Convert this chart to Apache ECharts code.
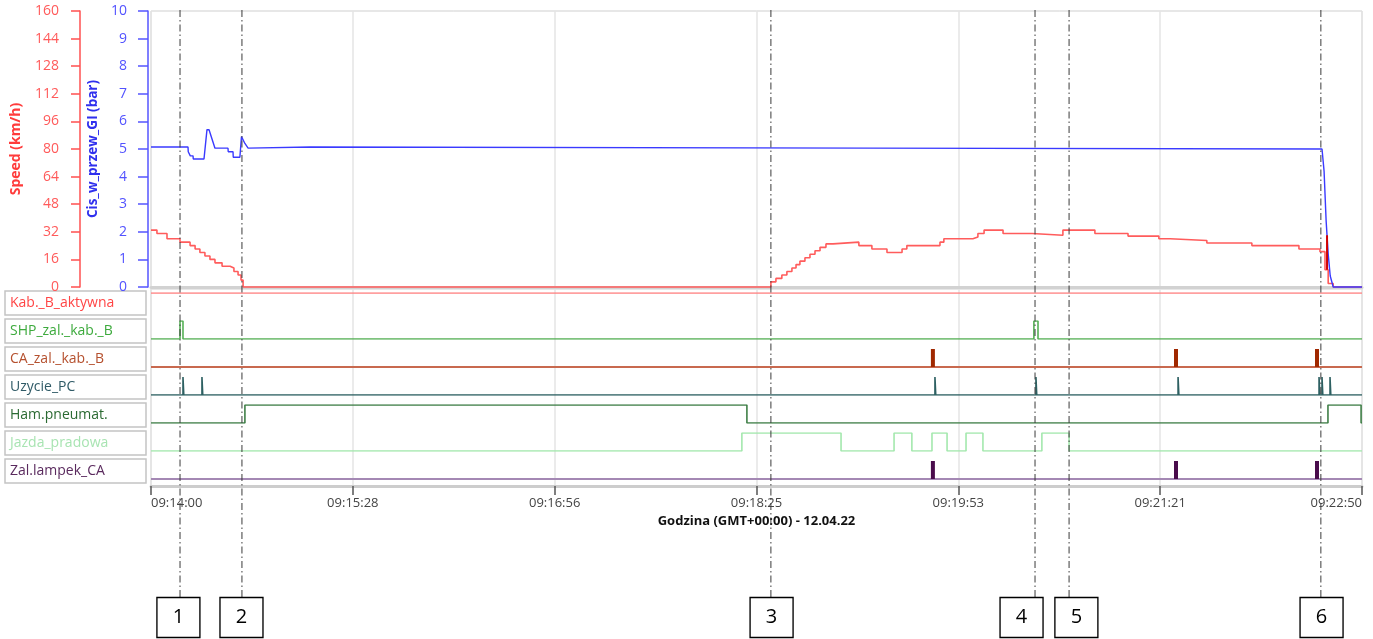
<!DOCTYPE html>
<html><head><meta charset="utf-8">
<script src="https://cdn.jsdelivr.net/npm/echarts@6/dist/echarts.min.js"></script>
<style>html,body{margin:0;padding:0;background:#fff}#c{width:1373px;height:639px}</style>
</head><body><div id="c"></div>
<script>
const FONT = '"Open Sans", "Noto Sans", sans-serif';
const START_SEC = 9 * 3600 + 14 * 60;   // 09:14:00
const SPAN_SEC = 530;                   // until 09:22:50
const TICK_COUNT = 6;
const SUB = 6;                          // axis units per second (keeps tick interval integral)

// Upper panel: speed (km/h), step signal
const speedTime  = [0, 2.6, 7.0, 12.7, 17.1, 19.3, 21.4, 23.6, 25.8, 28.0, 31.1, 34.6, 36.3, 38.1, 39.4, 40.3,
  271.3, 273.5, 276.1, 278.3, 280.5, 282.3, 284.0, 286.2, 288.4, 290.6, 292.8, 295.4, 298.5,
  309.8, 315.5, 322.1, 328.7, 330.8, 345.3, 347.0, 359.7, 361.9, 364.6, 372.9, 385.6, 399.1, 413.1, 427.6,
  441.1, 446.0, 462.1, 481.8, 502.4, 511.6, 513.8, 515.2, 517.4, 530];
const speedValue = [33, 31, 28, 26, 24, 22, 20, 18, 16, 14, 12, 11, 9, 7, 4, 0,
  3, 5, 7, 9, 11, 13, 15, 17, 19, 21, 23, 25, 26,
  24, 22, 20, 22, 24, 26, 28, 29, 31, 33, 31, 30, 33, 31, 29.5,
  28, 27, 25.5, 24, 22, 20.5, 10, 2, 0, 0];

// Upper panel: brake pipe pressure (bar)
const presTime  = [0, 16.2, 16.3, 17.1, 17.2, 18.4, 18.5, 23.2, 24.5, 25.4, 28.0, 33.7, 33.8, 35.9, 36.0, 38.9,
  39.6, 41.1, 42.5, 69.6, 314.7, 512.5, 513.4, 514.3, 515.2, 516.1, 517.4, 530];
const presValue = [5.07, 5.07, 4.9, 4.9, 4.75, 4.75, 4.64, 4.64, 5.7, 5.7, 5.03, 5.03, 4.9, 4.9, 4.7, 4.7,
  5.45, 5.2, 5.03, 5.07, 5.03, 5.0, 4.2, 2.4, 1.2, 0.4, 0, 0];

// short dark-red trace near the end of the upper panel
const darkTraceTime = [514.7, 514.7];
const darkTraceValue = [10, 30];

// Binary channels (lower panel)
const rowNames = ['Kab._B_aktywna', 'SHP_zal._kab._B', 'CA_zal._kab._B', 'Uzycie_PC', 'Ham.pneumat.', 'Jazda_pradowa', 'Zal.lampek_CA'];
const kabTime = [0, 530], kabState = [1, 1];
const shpTime = [0, 12.7, 14.0, 386.4, 388.2, 530], shpState = [0, 1, 0, 1, 0, 0];
const caPulseTimes = [342.2, 448.6, 510.3];
const uzyPulseTimes = [14.0, 22.3, 343.1, 387.3, 449.5, 511.2, 512.5, 516.0];
const hamTime = [0, 41.1, 260.8, 515.1, 529.6, 530], hamState = [0, 1, 0, 1, 0, 0];
const jazdaTime = [0, 258.6, 302.0, 325.2, 333.0, 341.8, 348.4, 356.7, 364.1, 389.9, 401.8, 530];
const jazdaState = [0, 1, 0, 1, 0, 1, 0, 1, 0, 1, 0, 0];
const zalPulseTimes = [342.2, 448.6, 510.3];

// Event markers and numbered boxes
const markerTimes = [12.7, 39.8, 271.3, 386.9, 401.8, 512.0];
const boxTimes = [12.0, 39.6, 271.6, 381.0, 405.0, 512.3];
const boxLabels = ['1', '2', '3', '4', '5', '6'];

const speedTicks = { min: 0, max: 160, interval: 16 };
const presTicks = { min: 0, max: 10, interval: 1 };
const xTitle = 'Godzina (GMT+00:00) - 12.04.22';

// ---------- build ----------
const pts = (ts, vs) => ts.map((t, i) => [t * SUB, vs[i]]);
const pad = n => String(n).padStart(2, '0');
const fmtTime = v => {
  const s = START_SEC + Math.floor(v / SUB + 1e-6);
  return pad(Math.floor(s / 3600)) + ':' + pad(Math.floor(s / 60) % 60) + ':' + pad(s % 60);
};
const X_MAX = SPAN_SEC * SUB, X_INT = X_MAX / TICK_COUNT;
const gridSide = { left: 151, right: 11 };
function xAx(gridIndex, extra) {
  return Object.assign({
    type: 'value', gridIndex, min: 0, max: X_MAX, interval: X_INT,
    axisLine: { show: false }, axisTick: { show: false }, axisLabel: { show: false }, splitLine: { show: false }
  }, extra || {});
}
function yHidden(gridIndex, min, max) {
  return { type: 'value', gridIndex, min, max, show: false, splitLine: { show: false } };
}
const split = { show: true, lineStyle: { color: '#e4e4e4', width: 1.5 } };

const grids = [], xAxes = [], yAxes = [], series = [], graphics = [];

// grid 0: upper panel
grids.push(Object.assign({ top: 11, height: 276, show: true, borderColor: '#cfcfcf', borderWidth: 1 }, gridSide));
xAxes.push(xAx(0, { axisLine: { show: true, onZero: false, lineStyle: { color: '#d2d2d2', width: 3 } }, splitLine: split }));
yAxes.push({
  type: 'value', gridIndex: 0, position: 'left', offset: 71, min: speedTicks.min, max: speedTicks.max, interval: speedTicks.interval,
  name: 'Speed (km/h)', nameLocation: 'middle', nameGap: 57, nameRotate: 90,
  nameTextStyle: { color: '#ff3b3b', fontWeight: 'bold', fontSize: 14, fontFamily: FONT },
  axisLine: { show: true, onZero: false, lineStyle: { color: '#ff5050', width: 1.5 } },
  axisTick: { show: true, length: 9, lineStyle: { color: '#ff5050', width: 1.5 } },
  axisLabel: { color: '#ff5a5a', fontSize: 14, margin: 21, fontFamily: FONT },
  splitLine: { show: false }
});
yAxes.push({
  type: 'value', gridIndex: 0, position: 'left', offset: 3, min: presTicks.min, max: presTicks.max, interval: presTicks.interval,
  name: 'Cis_w_przew_GI (bar)', nameLocation: 'middle', nameGap: 48, nameRotate: 90,
  nameTextStyle: { color: '#3030ee', fontWeight: 'bold', fontSize: 13.5, fontFamily: FONT },
  axisLine: { show: true, onZero: false, lineStyle: { color: '#5555ff', width: 1.5 } },
  axisTick: { show: true, length: 10, lineStyle: { color: '#5555ff', width: 1.5 } },
  axisLabel: { color: '#5252ff', fontSize: 14, margin: 21, fontFamily: FONT },
  splitLine: { show: false }
});
series.push({ type: 'line', xAxisIndex: 0, yAxisIndex: 0, data: pts(speedTime, speedValue), step: 'end', showSymbol: false,
  clip: false, lineStyle: { color: '#ff5c5c', width: 1.6 }, z: 3, silent: true });
series.push({ type: 'line', xAxisIndex: 0, yAxisIndex: 1, data: pts(presTime, presValue), showSymbol: false,
  clip: false, lineStyle: { color: '#3a3aff', width: 1.4 }, z: 4, silent: true });
series.push({ type: 'line', xAxisIndex: 0, yAxisIndex: 0, data: pts(darkTraceTime, darkTraceValue), showSymbol: false,
  lineStyle: { color: '#d00000', width: 2 }, z: 5, silent: true });

// grid 1: lower panel frame + time axis
grids.push(Object.assign({ top: 289, height: 197, show: true, borderColor: '#cfcfcf', borderWidth: 1 }, gridSide));
xAxes.push(xAx(1, {
  axisLine: { show: true, onZero: false, lineStyle: { color: '#cdcdcd', width: 3 } },
  axisTick: { show: true, length: 9, lineStyle: { color: '#555', width: 1.5 } },
  axisLabel: { show: true, color: '#444', fontSize: 13, margin: 11, fontFamily: FONT, formatter: fmtTime,
    alignMinLabel: 'left', alignMaxLabel: 'right' },
  splitLine: split,
  name: xTitle, nameLocation: 'middle', nameGap: 29,
  nameTextStyle: { color: '#111', fontWeight: 'bold', fontSize: 13, fontFamily: FONT }
}));
yAxes.push(yHidden(1, 0, 1));

// rows
const rowLine = ['#ff8080', '#55b055', '#c8694f', '#2d6062', '#3f7f47', '#a3e8ad', '#a488b4'];
const rowText = ['#ff4545', '#3daa3d', '#b5502e', '#2f5a66', '#2b6a32', '#a8e4b2', '#5a2a5e'];
const pulseDark = { 2: '#a02800', 6: '#4a0c4c' };
function pulseThin(times, w) {
  const d = [[0, 0]];
  times.forEach(p => { d.push([p, 0], [p, 1], [p + w, 1], [p + w, 0]); });
  d.push([SPAN_SEC, 0]);
  return d.map(q => [q[0] * SUB, q[1]]);
}
const rowData = [
  { kind: 'step', data: pts(kabTime, kabState) },
  { kind: 'step', data: pts(shpTime, shpState) },
  { kind: 'thick', pulses: caPulseTimes },
  { kind: 'line', data: pulseThin(uzyPulseTimes, 0.35) },
  { kind: 'step', data: pts(hamTime, hamState) },
  { kind: 'step', data: pts(jazdaTime, jazdaState) },
  { kind: 'thick', pulses: zalPulseTimes }
];
rowData.forEach((r, i) => {
  const gi = grids.length;
  grids.push(Object.assign({ top: 293 + 28 * i, height: 18 }, gridSide));
  xAxes.push(xAx(gi));
  yAxes.push(yHidden(gi, 0, 1));
  const xi = xAxes.length - 1, yi = yAxes.length - 1;
  if (r.kind === 'thick') {
    series.push({ type: 'line', xAxisIndex: xi, yAxisIndex: yi, data: pts([0, SPAN_SEC], [0, 0]), showSymbol: false,
      lineStyle: { color: rowLine[i], width: 2 }, z: 3, silent: true });
    series.push({ type: 'bar', xAxisIndex: xi, yAxisIndex: yi, barWidth: 4, data: r.pulses.map(p => [p * SUB, 1]),
      itemStyle: { color: pulseDark[i] }, z: 4, silent: true });
  } else {
    series.push({ type: 'line', xAxisIndex: xi, yAxisIndex: yi, data: r.data, step: r.kind === 'step' ? 'end' : false,
      showSymbol: false, lineStyle: { color: rowLine[i], width: 1.6 }, z: 3, silent: true });
  }
  graphics.push({ type: 'rect', shape: { x: 5, y: 291 + 28 * i, width: 141, height: 24 },
    style: { fill: '#fff', stroke: '#c4c4c4', lineWidth: 1.5 }, silent: true });
  graphics.push({ type: 'text', x: 10, y: 303 + 28 * i,
    style: { text: rowNames[i], fill: rowText[i], font: '14px ' + FONT, verticalAlign: 'middle', textVerticalAlign: 'middle' }, silent: true });
});

// overlay grid: dashed event markers
{
  const gi = grids.length;
  grids.push(Object.assign({ top: 10, height: 587 }, gridSide));
  xAxes.push(xAx(gi));
  yAxes.push(yHidden(gi, 0, 1));
  const d = [];
  markerTimes.forEach(t => { d.push([t * SUB, 0], [t * SUB, 1], [t * SUB, '-']); });
  series.push({ type: 'line', xAxisIndex: xAxes.length - 1, yAxisIndex: yAxes.length - 1, data: d, showSymbol: false,
    connectNulls: false, lineStyle: { color: '#3a3a3a', width: 1, type: [7, 3, 1.5, 3] }, z: 6, silent: true });
}
// box grid: numbered boxes
{
  const gi = grids.length;
  grids.push(Object.assign({ top: 597, height: 41 }, gridSide));
  xAxes.push(xAx(gi));
  yAxes.push(yHidden(gi, 0, 1));
  series.push({ type: 'scatter', xAxisIndex: xAxes.length - 1, yAxisIndex: yAxes.length - 1,
    data: boxTimes.map((t, i) => ({ value: [t * SUB, 0.5], name: boxLabels[i] })),
    symbol: 'rect', symbolSize: [43, 40],
    itemStyle: { color: '#fff', borderColor: '#000', borderWidth: 1.3, opacity: 1 },
    label: { show: true, position: 'inside', formatter: p => p.name, color: '#000', fontSize: 20, fontFamily: FONT },
    z: 7, silent: true });
}

const chart = echarts.init(document.getElementById('c'), null, { renderer: 'canvas' });
chart.setOption({
  animation: false,
  backgroundColor: '#fff',
  textStyle: { fontFamily: FONT },
  grid: grids, xAxis: xAxes, yAxis: yAxes, series, graphic: graphics
});
</script></body></html>
